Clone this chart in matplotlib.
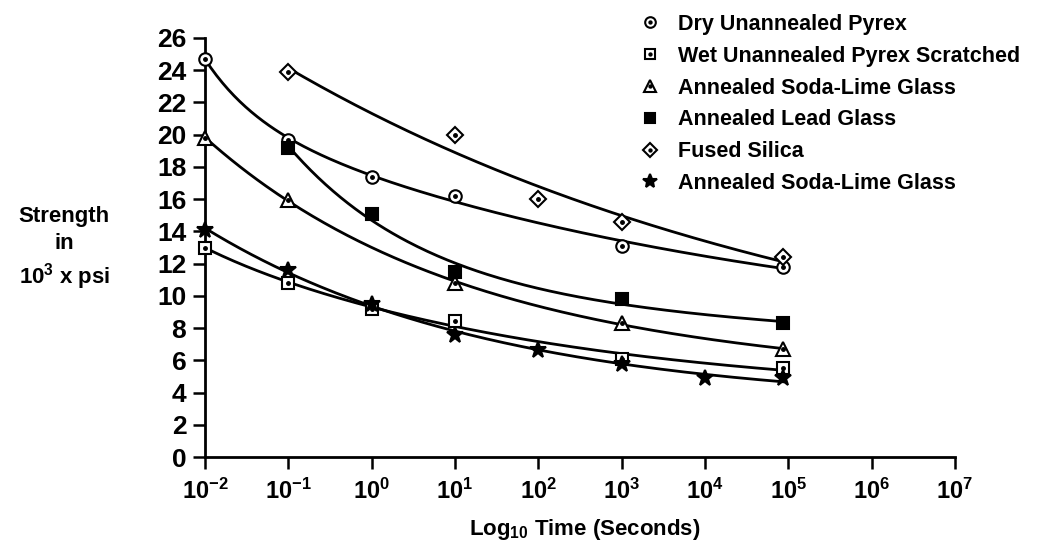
import numpy as np
import matplotlib
matplotlib.use('Agg')
import matplotlib.pyplot as plt
from matplotlib.legend_handler import HandlerTuple

plt.rcParams['font.family'] = ['Liberation Sans', 'DejaVu Sans']
plt.rcParams['font.weight'] = 'bold'
plt.rcParams['mathtext.fontset'] = 'custom'
plt.rcParams['mathtext.rm'] = 'Liberation Sans:bold'
plt.rcParams['mathtext.it'] = 'Liberation Sans:bold'
plt.rcParams['mathtext.bf'] = 'Liberation Sans:bold'

# time in seconds, strength in 10^3 psi (last point is about one day)
DAY = 86400

dry_t = [1e-2, 1e-1, 1e0, 1e1, 1e3, DAY]
dry_s = [24.7, 19.7, 17.4, 16.2, 13.1, 11.8]

wet_t = [1e-2, 1e-1, 1e0, 1e1, 1e3, DAY]
wet_s = [13.0, 10.8, 9.2, 8.45, 6.1, 5.5]

soda_t = [1e-2, 1e-1, 1e1, 1e3, DAY]
soda_s = [19.8, 15.95, 10.8, 8.3, 6.7]

lead_t = [1e-1, 1e0, 1e1, 1e3, DAY]
lead_s = [19.2, 15.1, 11.5, 9.8, 8.3]

silica_t = [1e-1, 1e1, 1e2, 1e3, DAY]
silica_s = [23.9, 20.0, 16.0, 14.6, 12.4]

soda2_t = [1e-2, 1e-1, 1e0, 1e1, 1e2, 1e3, 1e4, DAY]
soda2_s = [14.1, 11.6, 9.5, 7.6, 6.65, 5.8, 4.9, 4.9]

labels = ['Dry Unannealed Pyrex', 'Wet Unannealed Pyrex Scratched',
          'Annealed Soda-Lime Glass', 'Annealed Lead Glass',
          'Fused Silica', 'Annealed Soda-Lime Glass']

yticks = list(range(0, 27, 2))
xtick_exp = list(range(-2, 8))

# (t, s, marker, size, filled, dot)
series = [
    (dry_t, dry_s, 'o', 9, False, True),
    (wet_t, wet_s, 's', 8.5, False, True),
    (soda_t, soda_s, '^', 9.5, False, True),
    (lead_t, lead_s, 's', 9, True, False),
    (silica_t, silica_s, 'D', 8, False, True),
    (soda2_t, soda2_s, '*', 12, True, False),
]


def smooth_fit(lx, s):
    # least squares a + b*exp(-c1*x) + d*exp(-c2*x), b, d >= 0,
    # so the curve stays decreasing and convex like the hand-drawn ones
    best = None
    cs = np.linspace(0.05, 1.6, 60)
    for i, c1 in enumerate(cs):
        for c2 in cs[i + 1:]:
            A = np.column_stack([np.ones_like(lx), np.exp(-c1 * (lx + 2)),
                                 np.exp(-c2 * (lx + 2))])
            coef = np.linalg.lstsq(A, s, rcond=None)[0]
            if coef[1] < 0 or coef[2] < 0:
                continue
            err = np.sum((A @ coef - s) ** 2)
            if best is None or err < best[0]:
                best = (err, c1, c2, coef)
    _, c1, c2, coef = best
    return lambda x: (coef[0] + coef[1] * np.exp(-c1 * (x + 2))
                      + coef[2] * np.exp(-c2 * (x + 2)))


fig = plt.figure(figsize=(10.38, 5.56), dpi=100)
ax = fig.add_axes([0.1975, 0.178, 0.9200 - 0.1975, 0.9317 - 0.178])

handles = []
for t, s, mk, ms, filled, dot in series:
    lx = np.log10(t)
    f = smooth_fit(lx, np.array(s))
    xx = np.linspace(lx[0], lx[-1], 200)
    ax.plot(10 ** xx, f(xx), color='k', lw=2, zorder=2)
    m1, = ax.plot(t, s, ls='none', marker=mk, ms=ms, mec='k', mew=1.5,
                  mfc='k' if filled else 'white', clip_on=False, zorder=3)
    h = [m1]
    if dot:
        m2, = ax.plot(t, s, ls='none', marker='o', ms=2.5, color='k',
                      clip_on=False, zorder=4)
        h.append(m2)
    handles.append(tuple(h))

ax.set_xscale('log')
ax.set_xlim(1e-2, 1e7)
ax.set_ylim(0, 26)
ax.set_yticks(yticks)
ax.set_yticklabels([str(v) for v in yticks], fontsize=19)
ax.set_xticks([10.0 ** e for e in xtick_exp])
ax.set_xticklabels([r'$10^{%d}$' % e for e in xtick_exp], fontsize=17)
ax.xaxis.set_minor_locator(plt.NullLocator())
ax.tick_params(direction='out', length=8.5, width=1.8, pad=5)
ax.tick_params(axis='x', pad=7)

for side in ['top', 'right']:
    ax.spines[side].set_visible(False)
for side in ['left', 'bottom']:
    ax.spines[side].set_linewidth(2)

fig.text(0.062, 0.552, 'Strength\nin\n10$^3$ x psi', ha='center', va='center',
         fontsize=16, linespacing=1.35)
fig.text(0.563, 0.047, 'Log$_{10}$ Time (Seconds)', ha='center', va='center',
         fontsize=16)

fig.legend(handles, labels, handler_map={tuple: HandlerTuple(ndivide=1)},
           loc='upper left', bbox_to_anchor=(0.604, 1.0), frameon=False,
           fontsize=15.5, handlelength=0.8, handletextpad=0.9,
           labelspacing=0.5, numpoints=1, markerscale=0.85,
           borderaxespad=0.25)

fig.savefig('out.png', dpi=100)
